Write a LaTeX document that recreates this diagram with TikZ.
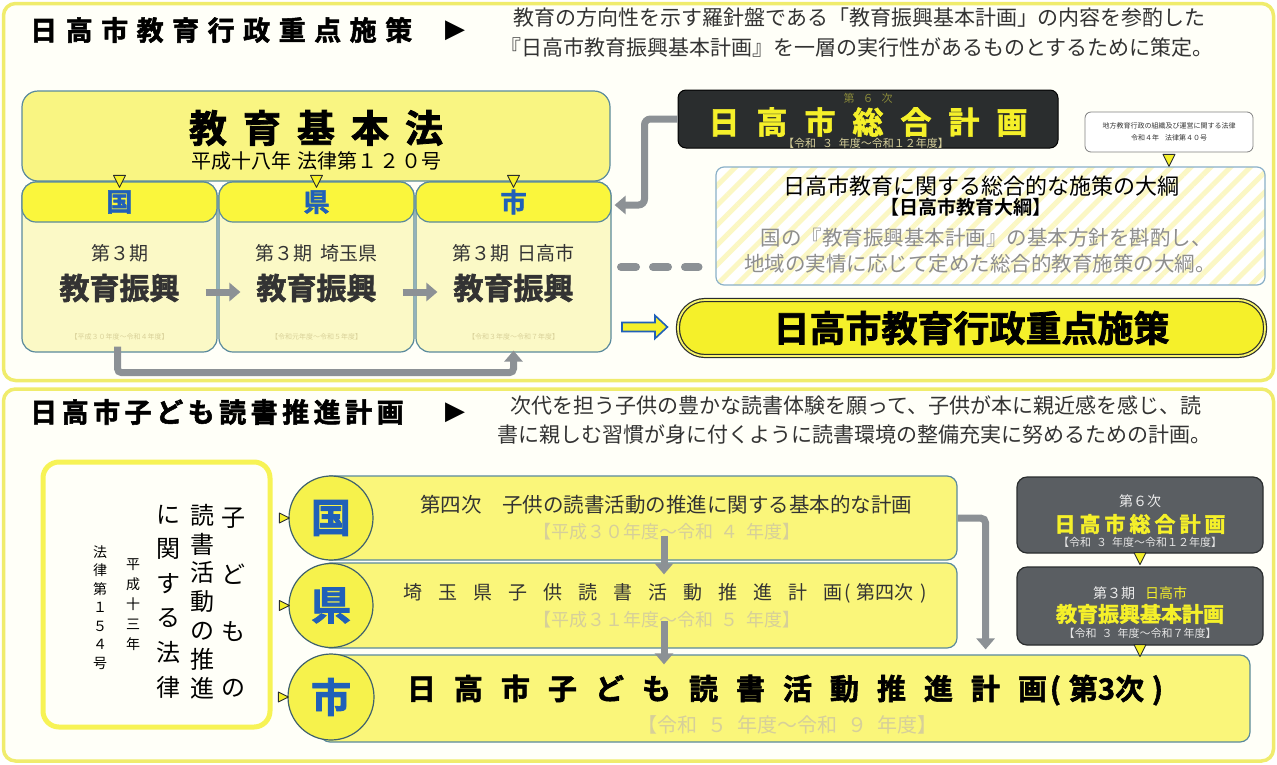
\documentclass[tikz,border=0pt]{standalone}
\usepackage{fontspec}
\setmainfont{Noto Sans CJK JP}
\newfontfamily\jp{Noto Sans CJK JP}
\newfontfamily\jpb{Noto Sans CJK JP Bold}
\newfontfamily\jph{Noto Sans CJK JP Bold}[FakeBold=2]
\newfontfamily\dv{DejaVu Sans}
\usetikzlibrary{arrows.meta,calc,patterns.meta}
\definecolor{pborder}{HTML}{F0EC6C}
\definecolor{pfill}{HTML}{FFFFF8}
\definecolor{bline}{HTML}{5A8A9C}
\definecolor{ykihon}{HTML}{F9F582}
\definecolor{ycol}{HTML}{FBF9C6}
\definecolor{yhead}{HTML}{FAF63C}
\definecolor{ybar}{HTML}{FAF67A}
\definecolor{ycirc}{HTML}{F6F24C}
\definecolor{kblue}{HTML}{2060B8}
\definecolor{garr}{HTML}{8C9195}
\definecolor{darkA}{HTML}{2A2D2E}
\definecolor{darkB}{HTML}{5A5E62}
\definecolor{yt}{HTML}{F5F02A}
\definecolor{tinyc}{HTML}{D8D098}
\definecolor{pale}{HTML}{D6CF9A}
\definecolor{dtext}{HTML}{333333}
\definecolor{graytxt}{HTML}{8E8E8E}
\definecolor{olive}{HTML}{8A8A3A}
\definecolor{hatch}{HTML}{FBF7C4}
\definecolor{lblue}{HTML}{8AB0C8}
\newcommand\fsz[1]{\fontsize{#1}{#1}\selectfont}
\makeatletter
\newcommand\spc[2]{\def\spc@g{\hspace{#1}}\let\spc@s\relax\@tfor\spc@c:=#2\do{\spc@s\spc@c\let\spc@s\spc@g}}
\makeatother
\tikzset{
  panel/.style={draw=pborder, line width=3.5pt, rounded corners=12pt, fill=pfill},
  txt/.style={inner sep=0pt, font=\jp},
  kihonbox/.style={draw=bline, line width=1.2pt, rounded corners=16pt, fill=ykihon},
  cbody/.style={draw=bline, line width=1.2pt, rounded corners=14pt, fill=ycol},
  chead/.style={draw=bline, line width=1.2pt, rounded corners=14pt, fill=yhead, inner sep=0pt, text=kblue, font=\jph\fsz{26}},
  garrow/.style={draw=garr, line width=7pt, -{Triangle[length=11pt,width=18pt]}},
  darkbox/.style={draw=black, line width=1pt, rounded corners=8pt, fill=darkA},
  darkbox2/.style={draw=darkA, line width=1.2pt, rounded corners=10pt, fill=darkB},
  wbox/.style={draw=gray, line width=0.8pt, rounded corners=6pt, fill=white, inner sep=0pt, align=center, text=dtext},
  taikobox/.style={draw=lblue, line width=1.2pt, rounded corners=8pt, preaction={fill=white}, pattern={Lines[angle=45,distance=14pt,line width=5pt]}, pattern color=hatch},
  pillbox/.style={draw=darkA, line width=1.2pt, double=yt!70!white, double distance=1.8pt, rounded corners=27pt, fill=yt, inner sep=0pt},
  tri/.style={fill=yt, draw=darkA, line width=0.9pt, line join=round},
  lawbox/.style={draw=yt!80!white, line width=5pt, rounded corners=16pt, fill=pfill},
  bar/.style={draw=bline, line width=1.2pt, rounded corners=10pt, fill=ybar},
  kcirc/.style={circle, draw=bline!70!black, line width=1.2pt, fill=ycirc, inner sep=0pt, text=kblue, font=\jph\fsz{40}},
  dashg/.style={draw=garr, line width=8pt, dash pattern=on 15pt off 17pt, line cap=round},
  blockarrow/.style={draw=kblue, line width=1.6pt, fill=yt, line join=miter},
  vtext/.style={inner sep=0pt, align=center}
}
\newcommand\downtri[1]{\filldraw[tri] ($#1+(-6,-6)$) -- ($#1+(6,-6)$) -- ($#1+(0,6)$) -- cycle;}
\newcommand\righttri[1]{\filldraw[tri] ($#1+(-9,-5)$) -- ($#1+(-9,5)$) -- ($#1+(1,0)$) -- cycle;}
\begin{document}
\begin{tikzpicture}[x=1pt,y=-1pt]
\useasboundingbox (0,0) rectangle (1277,764);
\fill[white] (0,0) rectangle (1277,764);
% ================= TOP PANEL =================
\node[panel, minimum width=1270, minimum height=377] (ptop) at (638.5,192) {};
\node[txt, anchor=west, font=\jph\fsz{27}] (t1) at (30,30) {\spc{8.5pt}{日高市教育行政重点施策}};
\node[txt, font=\dv\fsz{26}] (t1a) at (455,31) {▶};
\node[txt, anchor=west, font=\jp\fsz{21}, text=dtext] (d1) at (513,18) {教育の方向性を示す羅針盤である「教育振興基本計画」の内容を参酌した};
\node[txt, anchor=west, font=\jp\fsz{21}, text=dtext] (d2) at (500,48) {『日高市教育振興基本計画』を一層の実行性があるものとするために策定。};
% kihon
\node[kihonbox, minimum width=588, minimum height=90] (kihon) at (316,136) {};
\node[txt, font=\jph\fsz{38}] (kt) at (316,128) {\spc{16pt}{教育基本法}};
\node[txt, font=\jp\fsz{20}] (ks) at (316,161) {平成十八年\hspace{6pt}法律第１\hspace{2pt}２\hspace{2pt}０号};
% columns
\node[cbody, minimum width=195, minimum height=170] (b1) at (119.5,267) {};
\node[cbody, minimum width=195, minimum height=170] (b2) at (316.5,267) {};
\node[cbody, minimum width=195, minimum height=170] (b3) at (513.5,267) {};
\node[chead, minimum width=195, minimum height=40] (h1) at (119.5,202) {国};
\node[chead, minimum width=195, minimum height=40] (h2) at (316.5,202) {県};
\node[chead, minimum width=195, minimum height=40] (h3) at (513.5,202) {市};
\downtri{(h1.north)}
\downtri{(h2.north)}
\downtri{(h3.north)}
\node[txt, font=\jp\fsz{19}, text=dtext] (b1a) at (119.5,253) {第３期};
\node[txt, font=\jp\fsz{19}, text=dtext] (b2a) at (316.5,253) {第３期\hspace{8pt}埼玉県};
\node[txt, font=\jp\fsz{19}, text=dtext] (b3a) at (513.5,253) {第３期\hspace{8pt}日高市};
\node[txt, font=\jph\fsz{30}, text=dtext] (b1b) at (119.5,288) {教育振興};
\node[txt, font=\jph\fsz{30}, text=dtext] (b2b) at (316.5,288) {教育振興};
\node[txt, font=\jph\fsz{30}, text=dtext] (b3b) at (513.5,288) {教育振興};
\node[txt, font=\jp\fsz{7}, text=tinyc] (b1c) at (119.5,337) {【平成３０年度～令和４年度】};
\node[txt, font=\jp\fsz{7}, text=tinyc] (b2c) at (316.5,337) {【令和元年度～令和５年度】};
\node[txt, font=\jp\fsz{7}, text=tinyc] (b3c) at (513.5,337) {【令和３年度～令和７年度】};
\draw[garrow] ($(b1.east)+(-12,25)$) -- ($(b2.west)+(22,25)$);
\draw[garrow] ($(b2.east)+(-12,25)$) -- ($(b3.west)+(22,25)$);
\draw[garrow, rounded corners=4pt] ($(b1.south)+(-2,-6)$) -- ++(0,26) -| ($(b3.south)+(0,-2)$);
% right side
\node[darkbox, minimum width=380, minimum height=58] (sogo) at (868,119) {};
\node[txt, font=\jp\fsz{11}, text=olive] (sogoa) at (868,98) {第\hspace{8pt}６\hspace{8pt}次};
\node[txt, font=\jph\fsz{31}, text=yt] (sogob) at (868,122) {\spc{17pt}{日高市総合計画}};
\node[txt, font=\jp\fsz{11}, text=pale] (sogoc) at (866,143) {【令和\hspace{6pt}３\hspace{6pt}年度～令和１２年度】};
\draw[garrow, rounded corners=6pt] (sogo.west) -- ++(-33,0) |- ($(h3.east)+(3,3)$);
\node[wbox, minimum width=168, minimum height=40, font=\jp\fontsize{7}{12}\selectfont] (law2) at (1169,132) {地方教育行政の組織及び運営に関する法律\\令和４年\hspace{6pt}法律第４０号};
\node[taikobox, minimum width=549, minimum height=118] (taiko) at (990.5,226) {};
\downtri{($(law2.south)+(0,8)$)}
\node[txt, font=\jp\fsz{22}, text=black] (ta) at (981,186) {日高市教育に関する総合的な施策の大綱};
\node[txt, font=\jpb\fsz{19}, text=black] (tb) at (966,207) {【日高市教育大綱】};
\node[txt, font=\jp\fsz{20.5}, text=graytxt] (tc) at (986,238) {国の『教育振興基本計画』の基本方針を斟酌し、};
\node[txt, font=\jp\fsz{20.5}, text=graytxt] (td) at (980,264) {地域の実情に応じて定めた総合的教育施策の大綱。};
\coordinate (da) at (621,267);
\draw[dashg] (da) -- ($(taiko.west)+(-15,41)$);
\node[pillbox, minimum width=587, minimum height=56, font=\jph\fsz{36}] (pill) at (971.5,328) {日高市教育行政重点施策};
\coordinate (ia) at (622,327);
\draw[blockarrow] ($(ia)+(0,-4.5)$) -- ++(33,0) -- ++(0,-7) -- ($(pill.west)+(-10,-1)$) -- ($(ia)+(33,11.5)$) -- ++(0,-7) -- ($(ia)+(0,4.5)$) -- cycle;
% ================= BOTTOM PANEL =================
\node[panel, minimum width=1270, minimum height=372] (pbot) at (638.5,575) {};
\node[txt, anchor=west, font=\jph\fsz{27}] (t2) at (30,412) {\spc{4.5pt}{日高市子ども読書推進計画}};
\node[txt, font=\dv\fsz{26}] (t2a) at (455,413) {▶};
\node[txt, anchor=west, font=\jp\fsz{21}, text=dtext] (d3) at (510,405) {次代を担う子供の豊かな読書体験を願って、子供が本に親近感を感じ、読};
\node[txt, anchor=west, font=\jp\fsz{21}, text=dtext] (d4) at (497,435) {書に親しむ習慣が身に付くように読書環境の整備充実に努めるための計画。};
% law box
\node[lawbox, minimum width=227, minimum height=265] (lawb) at (156.5,594.5) {};
\node[vtext, font=\jp\fontsize{24}{56.7}\selectfont] (v1) at (233,603) {子\\ど\\も\\の};
\node[vtext, font=\jp\fontsize{24}{28.8}\selectfont] (v2) at (202,601.5) {読\\書\\活\\動\\の\\推\\進};
\node[vtext, font=\jp\fontsize{24}{34.6}\selectfont] (v3) at (168,601.5) {に\\関\\す\\る\\法\\律};
\node[vtext, font=\jp\fontsize{14}{20}\selectfont] (v4) at (133,605) {平\\成\\十\\三\\年};
\node[vtext, font=\jp\fontsize{14}{18.5}\selectfont] (v5) at (100,607.5) {法\\律\\第\\１\\５\\４\\号};
% bars
\node[bar, minimum width=637, minimum height=84] (bar1) at (638.5,518) {};
\node[bar, minimum width=637, minimum height=85] (bar2) at (638.5,605.5) {};
\node[bar, minimum width=930, minimum height=87] (bar3) at (785,698.5) {};
\node[kcirc, minimum size=84] (c1) at (331,518) {国};
\node[kcirc, minimum size=84] (c2) at (331,605.5) {県};
\node[kcirc, minimum size=86] (c3) at (331,697) {市};
\righttri{(c1.west)}
\righttri{(c2.west)}
\righttri{(c3.west)}
\node[txt, font=\jp\fsz{20.5}, text=dtext] (r1a) at (666,505) {第四次　子供の読書活動の推進に関する基本的な計画};
\node[txt, font=\jp\fsz{18}, text=pale] (r1b) at (667,532) {【平成３０年度～令和\hspace{8pt}４\hspace{8pt}年度】};
\node[txt, font=\jp\fsz{19}, text=dtext] (r2a) at (665,593) {\spc{16pt}{埼玉県子供読書活動推進計画}\hspace{2pt}(\hspace{6pt}第四次\hspace{6pt})};
\node[txt, font=\jp\fsz{18}, text=pale] (r2b) at (667,620) {【平成３１年度～令和\hspace{8pt}５\hspace{8pt}年度】};
\node[txt, font=\jph\fsz{29}, text=black] (r3a) at (785,690) {\spc{18pt}{日高市子ども読書活動推進計画}\hspace{3pt}(\hspace{8pt}第3次\hspace{8pt})};
\node[txt, font=\jp\fsz{20}, text=pale] (r3b) at (787,725) {【令和\hspace{10pt}５\hspace{10pt}年度～令和\hspace{10pt}９\hspace{10pt}年度】};
\draw[garrow] ($(bar1.south)+(25.5,-25)$) -- ($(bar2.north -| bar1.south)+(25.5,12)$);
\draw[garrow] ($(bar2.south)+(25.5,-28)$) -- ($(bar3.north -| bar2.south)+(25.5,10)$);
\draw[garrow, rounded corners=5pt] (bar1.east) -| ($(bar3.north -| bar1.east)+(28,-5)$);
% dark boxes bottom right
\node[darkbox2, minimum width=246, minimum height=76] (dA) at (1140,515) {};
\node[darkbox2, minimum width=246, minimum height=78] (dB) at (1140,606) {};
\node[txt, font=\jp\fsz{14}, text=white!85!gray] (dAa) at (1140,501) {第６次};
\node[txt, font=\jph\fsz{21}, text=yt] (dAb) at (1140,524) {\spc{4pt}{日高市総合計画}};
\node[txt, font=\jp\fsz{11}, text=white!80!gray] (dAc) at (1140,542) {【令和\hspace{5pt}３\hspace{5pt}年度～令和１２年度】};
\node[txt, font=\jp\fsz{14}, text=white!85!gray] (dBa) at (1140,593) {第３期\hspace{10pt}\textcolor{yt}{日高市}};
\node[txt, font=\jph\fsz{21}, text=yt] (dBb) at (1140,614) {教育振興基本計画};
\node[txt, font=\jp\fsz{11}, text=white!80!gray] (dBc) at (1140,633) {【令和\hspace{5pt}３\hspace{5pt}年度～令和７年度】};
\downtri{($(dA.south)+(0,5)$)}
\downtri{($(dB.south)+(0,5)$)}
\end{tikzpicture}
\end{document}
